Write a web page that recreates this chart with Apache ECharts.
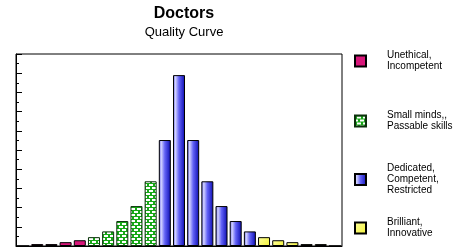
<!DOCTYPE html>
<html>
<head>
<meta charset="utf-8">
<script src="https://cdn.jsdelivr.net/npm/echarts@6/dist/echarts.min.js"></script>
<style>html,body{margin:0;padding:0;background:#fff}#c{width:462px;height:252px}</style>
</head>
<body>
<div id="c"></div>
<script>
// ---- data ----
var categories = ['1','2','3','4','5','6','7','8','9','10','11','12','13','14','15','16','17','18','19','20','21','22','23'];
var unethical  = [0, 1, 1, 2, 3, '-', '-', '-', '-', '-', '-', '-', '-', '-', '-', '-', '-', '-', '-', '-', '-', '-', '-'];
var smallMinds = ['-', '-', '-', '-', '-', 4.6, 7.6, 13, 20.8, 33.7, '-', '-', '-', '-', '-', '-', '-', '-', '-', '-', '-', '-', '-'];
var dedicated  = ['-', '-', '-', '-', '-', '-', '-', '-', '-', '-', 55.2, 89, 55.2, 33.7, 20.8, 13, 7.6, '-', '-', '-', '-', '-', '-'];
var brilliant  = ['-', '-', '-', '-', '-', '-', '-', '-', '-', '-', '-', '-', '-', '-', '-', '-', '-', 4.6, 3, 2, 1, 1, 0];
var seriesNames = ['Unethical,\nIncompetent', 'Small minds,,\nPassable skills', 'Dedicated,\nCompetent,\nRestricted', 'Brilliant,\nInnovative'];

// green brick pattern
function brick() {
  var c = document.createElement('canvas');
  c.width = 6; c.height = 6;
  var g = c.getContext('2d');
  g.fillStyle = '#ffffff'; g.fillRect(0, 0, 6, 6);
  g.fillStyle = '#18a818';
  g.fillRect(0, 0, 6, 1);
  g.fillRect(0, 3, 6, 1);
  g.fillRect(0, 0, 2, 3);
  g.fillRect(3, 3, 2, 3);
  return c;
}
var greenPat = { image: brick(), repeat: 'repeat' };
var blueGrad = new echarts.graphic.LinearGradient(0, 0, 1, 0, [
  { offset: 0, color: '#5050e8' }, { offset: 0.2, color: '#d4d4ff' },
  { offset: 0.5, color: '#6262f6' }, { offset: 1, color: '#0a0ab0' }]);
var yellowGrad = new echarts.graphic.LinearGradient(0, 0, 1, 1, [
  { offset: 0, color: '#ffffa0' }, { offset: 1, color: '#f2f236' }]);

var styles = [
  { color: '#d8177a', borderColor: '#000', borderWidth: 1 },
  { color: greenPat, borderColor: '#0c300c', borderWidth: 1 },
  { color: blueGrad, borderColor: '#000', borderWidth: 1 },
  { color: yellowGrad, borderColor: '#000', borderWidth: 1 }
];
var datas = [unethical, smallMinds, dedicated, brilliant];
var legendTops = [50, 110, 163, 217];

var chart = echarts.init(document.getElementById('c'), null, { renderer: 'canvas' });
var font = 'Liberation Sans, Arial, sans-serif';
var series = [], legends = [];
for (var i = 0; i < 4; i++) {
  series.push({
    name: seriesNames[i], type: 'bar', stack: 'all', data: datas[i],
    barWidth: 12, itemStyle: styles[i], silent: true
  });
  legends.push({
    data: [{ name: seriesNames[i], icon: 'rect' }], left: 354, top: legendTops[i], orient: 'vertical',
    padding: 0, itemWidth: 11, itemHeight: 11, selectedMode: false,
    textStyle: { fontFamily: font, fontSize: 10, color: '#000', lineHeight: 11, padding: [0, 0, 0, 16] }
  });
}

chart.setOption({
  animation: false,
  backgroundColor: '#fff',
  title: {
    text: 'Doctors', subtext: 'Quality Curve', left: 179, top: 1, textAlign: 'center', itemGap: 4,
    textStyle: { fontFamily: font, fontSize: 16, fontWeight: 'bold', color: '#000' },
    subtextStyle: { fontFamily: font, fontSize: 13, color: '#000' }
  },
  legend: legends,
  grid: { left: 16, right: 120, top: 54, bottom: 6, show: true, borderColor: '#000', borderWidth: 1, backgroundColor: 'transparent' },
  xAxis: {
    type: 'category', data: categories, z: 10,
    axisLine: { lineStyle: { color: '#000' } },
    axisTick: { inside: true, alignWithLabel: true, length: 5, lineStyle: { color: '#000' } },
    axisLabel: { show: false }
  },
  yAxis: {
    type: 'value', min: 0, max: 100, interval: 10,
    axisLine: { show: true, lineStyle: { color: '#000' } },
    axisTick: { show: true, inside: true, length: 6, lineStyle: { color: '#000' } },
    minorTick: { show: true, splitNumber: 2, length: 3, lineStyle: { color: '#000' } },
    axisLabel: { show: false }, splitLine: { show: false }
  },
  series: series
});
</script>
</body>
</html>
